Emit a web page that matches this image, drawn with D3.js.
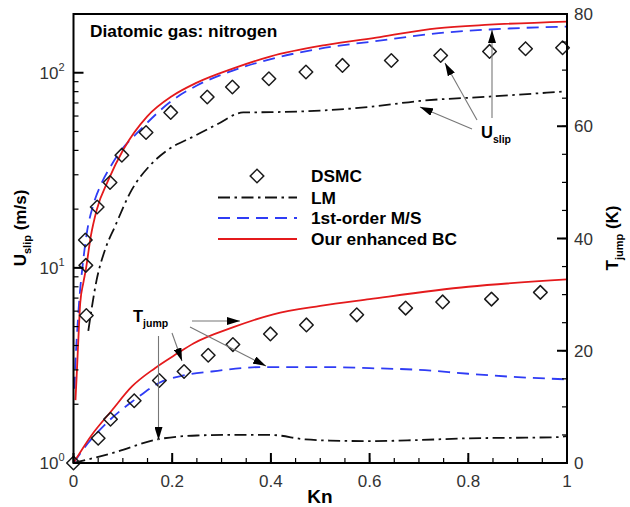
<!DOCTYPE html>
<html><head><meta charset="utf-8">
<script src="https://cdn.jsdelivr.net/npm/d3@7"></script>
<style>
html,body{margin:0;padding:0;background:#fff;}
svg{display:block;font-family:"Liberation Sans",Arial,sans-serif;}
</style></head>
<body><svg id="c" width="630" height="507"></svg>
<script>
// ---- data (Kn, value) ----
const knTicks = [0, 0.2, 0.4, 0.6, 0.8, 1];
const knTickLabels = ["0", "0.2", "0.4", "0.6", "0.8", "1"];
const uTicks = [1, 10, 100];
const uTickExp = ["0", "1", "2"];
const tTicks = [0, 20, 40, 60, 80];

// U_slip (m/s), left log axis
const dsmcU = [[0.024,13.9],[0.025,10.3],[0.026,5.7],[0.048,20.5],[0.074,27.4],[0.098,37.8],[0.147,49.4],[0.197,62.6],[0.271,75.1],[0.322,84.5],[0.396,93.2],[0.471,100.9],[0.545,109],[0.644,115.5],[0.744,122.5],[0.843,128.6],[0.916,132.8],[0.991,134.3]];
const lmU = [[0.03,4.76],[0.047,8.7],[0.065,12.6],[0.084,16.3],[0.118,25.1],[0.155,33.5],[0.192,40.4],[0.243,47.1],[0.29,54.2],[0.344,62.6],[0.4,62.8],[0.5,64.0],[0.6,66.8],[0.702,71.7],[0.843,75.5],[1.0,80.3]];
const msU = [[0.002,2.4],[0.004,3.3],[0.007,4.5],[0.012,7.0],[0.018,10.0],[0.027,15.1],[0.04,21.0],[0.057,27.2],[0.075,33.0],[0.09,38.0],[0.135,50.9],[0.202,72.7],[0.25,86],[0.32,102],[0.4,117.5],[0.5,133],[0.62,146],[0.74,159.5],[0.843,166.6],[1.0,172.5]];
const ourU = [[0.004,2.1],[0.007,3.0],[0.01,4.4],[0.0136,6.6],[0.02,8.4],[0.025,9.8],[0.035,14.5],[0.047,19.8],[0.071,28.3],[0.101,40.4],[0.149,59.6],[0.2,76],[0.25,89],[0.324,105.3],[0.398,121],[0.513,139],[0.621,152.4],[0.736,168.9],[0.843,176.3],[1.0,183]];

// T_jump (K), right linear axis
const dsmcT = [[0,0],[0.05,4.4],[0.075,7.8],[0.123,11.1],[0.174,14.7],[0.224,16.3],[0.273,19.2],[0.323,21.1],[0.399,23.0],[0.472,24.6],[0.574,26.4],[0.673,27.6],[0.748,28.7],[0.847,29.2],[0.946,30.4]];
const lmT = [[0,0],[0.08,1.8],[0.17,4.2],[0.25,4.9],[0.31,5.0],[0.4,5.0],[0.47,4.2],[0.52,4.0],[0.6,3.9],[0.7,4.1],[0.8,4.4],[0.9,4.5],[0.98,4.6],[1.0,4.8]];
const msT = [[0,0],[0.03,3.6],[0.05,5.6],[0.075,7.8],[0.123,11.2],[0.174,14.3],[0.223,15.6],[0.28,16.3],[0.385,17.1],[0.5,17.1],[0.6,16.9],[0.7,16.6],[0.8,15.9],[0.9,15.3],[1.0,14.9]];
const ourT = [[0,0],[0.037,5.0],[0.078,9.4],[0.118,13.6],[0.165,16.9],[0.21,19.5],[0.243,21.3],[0.324,24.2],[0.405,26.5],[0.5,28.0],[0.6,29.2],[0.8,31.4],[1.0,32.7]];

const legendItems = ["DSMC", "LM", "1st-order M/S", "Our enhanced BC"];

// ---- layout ----
const L = 73.5, R = 567, T = 14, B = 463;
const svg = d3.select("#c");
const x = d3.scaleLinear().domain([0, 1]).range([L, R]);
const yU = d3.scaleLog().domain([1, 200]).range([B, T]);
const yT = d3.scaleLinear().domain([0, 80]).range([B, T]);

const RED = "#e41a1c", BLUE = "#2f3cf5";
const styles = {
  lm: {stroke: "#111", dash: "12,4.5,2.5,4.5", w: 1.8},
  ms: {stroke: BLUE, dash: "12,7", w: 1.8},
  our: {stroke: RED, dash: null, w: 1.8}
};

svg.append("defs").append("clipPath").attr("id", "clip")
  .append("rect").attr("x", L).attr("y", T).attr("width", R - L).attr("height", B - T);
const mk = svg.select("defs").append("marker").attr("id", "ah")
  .attr("markerUnits", "userSpaceOnUse").attr("markerWidth", 14).attr("markerHeight", 8)
  .attr("refX", 13).attr("refY", 4).attr("orient", "auto");
mk.append("path").attr("d", "M0,0 L13,4 L0,8 Z").attr("fill", "#000");

const plot = svg.append("g").attr("clip-path", "url(#clip)");
function drawLine(data, ys, st) {
  plot.append("path").datum(data)
    .attr("fill", "none").attr("stroke", st.stroke).attr("stroke-width", st.w)
    .attr("stroke-dasharray", st.dash)
    .attr("d", d3.line().x(d => x(d[0])).y(d => ys(d[1])).curve(d3.curveMonotoneX));
}
drawLine(lmU, yU, styles.lm);
drawLine(msU, yU, styles.ms);
drawLine(ourU, yU, styles.our);
drawLine(lmT, yT, styles.lm);
drawLine(msT, yT, styles.ms);
drawLine(ourT, yT, styles.our);

const diamond = d3.symbol().type(d3.symbolSquare).size(92);
function drawPts(data, ys) {
  svg.append("g").selectAll("path").data(data).join("path")
    .attr("d", diamond)
    .attr("transform", d => `translate(${x(d[0])},${ys(d[1])}) rotate(45)`)
    .attr("fill", "none").attr("stroke", "#1a1a1a").attr("stroke-width", 1.5)
    .attr("stroke-linejoin", "round");
}
drawPts(dsmcU, yU);
drawPts(dsmcT, yT);

// ---- axes ----
const ax = svg.append("g");
ax.append("rect").attr("x", L).attr("y", T).attr("width", R - L).attr("height", B - T)
  .attr("fill", "none").attr("stroke", "#000").attr("stroke-width", 2);

// bottom
const minorKn = d3.range(0, 1.0001, 0.05);
ax.selectAll(".xm").data(minorKn).join("line")
  .attr("x1", d => x(d)).attr("x2", d => x(d)).attr("y1", B).attr("y2", B - 5)
  .attr("stroke", "#000").attr("stroke-width", 1.2);
ax.selectAll(".xM").data(knTicks).join("line")
  .attr("x1", d => x(d)).attr("x2", d => x(d)).attr("y1", B).attr("y2", B - 10)
  .attr("stroke", "#000").attr("stroke-width", 2);
ax.selectAll(".xl").data(knTicks).join("text")
  .attr("x", d => x(d)).attr("y", B + 24).attr("text-anchor", "middle")
  .attr("font-size", 17).attr("fill", "#333").text((d, i) => knTickLabels[i]);

// left log
const minorU = [];
[1, 10, 100].forEach(dec => { for (let k = 2; k <= 9; k++) if (dec * k <= 200) minorU.push(dec * k); });
ax.selectAll(".um").data(minorU).join("line")
  .attr("x1", L).attr("x2", L + 5).attr("y1", d => yU(d)).attr("y2", d => yU(d))
  .attr("stroke", "#000").attr("stroke-width", 1.2);
ax.selectAll(".uM").data(uTicks).join("line")
  .attr("x1", L).attr("x2", L + 10).attr("y1", d => yU(d)).attr("y2", d => yU(d))
  .attr("stroke", "#000").attr("stroke-width", 2);
const ul = ax.selectAll(".ul").data(uTicks).join("text")
  .attr("x", L - 9).attr("y", d => yU(d) + 6).attr("text-anchor", "end")
  .attr("font-size", 17).attr("fill", "#333");
ul.append("tspan").text("10");
ul.append("tspan").attr("dy", -8).attr("font-size", 11).text((d, i) => uTickExp[i]);

// right linear
const minorT = d3.range(0, 80.001, 5);
ax.selectAll(".tm").data(minorT).join("line")
  .attr("x1", R).attr("x2", R - 5).attr("y1", d => yT(d)).attr("y2", d => yT(d))
  .attr("stroke", "#000").attr("stroke-width", 1.2);
ax.selectAll(".tM").data(tTicks).join("line")
  .attr("x1", R).attr("x2", R - 10).attr("y1", d => yT(d)).attr("y2", d => yT(d))
  .attr("stroke", "#000").attr("stroke-width", 2);
ax.selectAll(".tl").data(tTicks).join("text")
  .attr("x", R + 7).attr("y", d => yT(d) + 6).attr("text-anchor", "start")
  .attr("font-size", 17).attr("fill", "#333").text(d => d);

// titles
svg.append("text").attr("x", 320).attr("y", 503).attr("text-anchor", "middle")
  .attr("font-size", 19).attr("font-weight", "bold").text("Kn");
const lt = svg.append("text").attr("transform", "translate(26,228) rotate(-90)")
  .attr("text-anchor", "middle").attr("font-size", 17).attr("font-weight", "bold");
lt.append("tspan").text("U");
lt.append("tspan").attr("dy", 5).attr("font-size", 11).text("slip");
lt.append("tspan").attr("dy", -5).text(" (m/s)");
const rt = svg.append("text").attr("transform", "translate(618,238) rotate(-90)")
  .attr("text-anchor", "middle").attr("font-size", 17).attr("font-weight", "bold");
rt.append("tspan").text("T");
rt.append("tspan").attr("dy", 5).attr("font-size", 11).text("jump");
rt.append("tspan").attr("dy", -5).text(" (K)");

svg.append("text").attr("x", 90).attr("y", 37).attr("font-size", 17.3)
  .attr("font-weight", "bold").text("Diatomic gas: nitrogen");

// legend
const lg = svg.append("g");
const lgY = [176, 197.5, 218, 239];
lg.append("path").attr("d", diamond).attr("transform", `translate(257,${lgY[0]}) rotate(45)`)
  .attr("fill", "none").attr("stroke", "#1a1a1a").attr("stroke-width", 1.5);
[styles.lm, styles.ms, styles.our].forEach((st, i) => {
  lg.append("line").attr("x1", 218).attr("x2", 297).attr("y1", lgY[i + 1]).attr("y2", lgY[i + 1])
    .attr("stroke", st.stroke).attr("stroke-width", st.w).attr("stroke-dasharray", st.dash);
});
lg.selectAll("text").data(legendItems).join("text")
  .attr("x", 311).attr("y", (d, i) => lgY[i] + 6).attr("font-size", 17.3)
  .attr("font-weight", "bold").text(d => d);

// annotations
const an = svg.append("g");
function arrow(x1, y1, x2, y2) {
  an.append("line").attr("x1", x1).attr("y1", y1).attr("x2", x2).attr("y2", y2)
    .attr("stroke", "#777").attr("stroke-width", 1.1).attr("marker-end", "url(#ah)");
}
arrow(472, 129, 420, 107);
arrow(477, 120, 445, 63);
arrow(492, 118, 492, 30);
arrow(192, 321, 240, 321);
arrow(190, 327, 266, 366);
arrow(172, 333, 182, 361);
arrow(158.5, 336, 158.5, 440);
const ua = an.append("text").attr("x", 481).attr("y", 138).attr("font-size", 16.5).attr("font-weight", "bold");
ua.append("tspan").text("U");
ua.append("tspan").attr("dy", 5).attr("font-size", 10.5).text("slip");
const ta = an.append("text").attr("x", 133).attr("y", 322).attr("font-size", 16.5).attr("font-weight", "bold");
ta.append("tspan").text("T");
ta.append("tspan").attr("dy", 5).attr("font-size", 10.5).text("jump");
</script></body></html>
